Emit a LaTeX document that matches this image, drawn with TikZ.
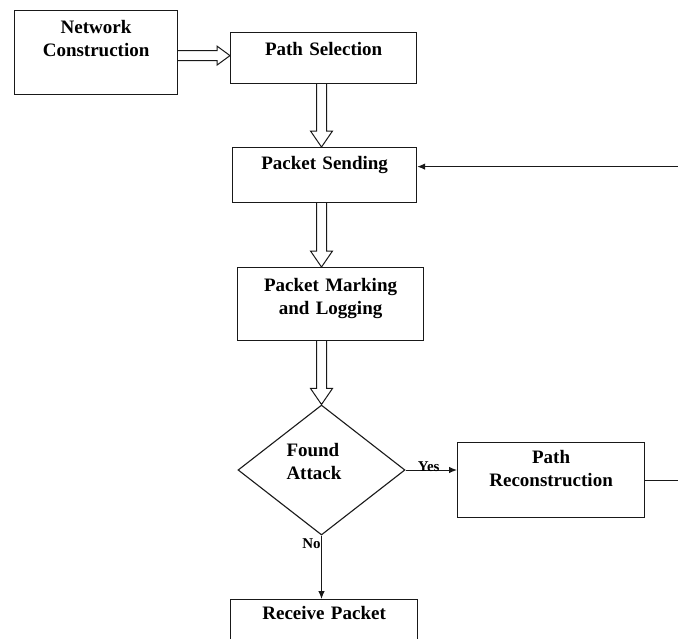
\documentclass[tikz,border=0pt]{standalone}
\usepackage{fontspec}
\setmainfont{Liberation Serif}
\usetikzlibrary{shapes.geometric,arrows.meta,calc}
\tikzset{
  stage/.style={draw=black!90, line width=1.2pt, inner sep=0pt, anchor=north west, align=center, font=\bfseries\fontsize{19}{23}\selectfont},
  choice/.style={draw=black!90, diamond, line width=1.1pt, inner sep=0pt, align=left, font=\bfseries\fontsize{19}{23}\selectfont},
  flow/.style={draw=black!90, line width=1pt, -{Latex[length=8pt,width=6.5pt]}},
  tag/.style={font=\bfseries\fontsize{15}{17}\selectfont, inner sep=0pt},
  hollow/.style={draw=black!90, line width=1pt, line join=miter}
}
% open block arrow, going down / going right
\newcommand{\hollowdown}[2]{%
  \draw[hollow] (#1)++(-5,0) -- ($(#2)+(-5,-16)$) -- ++(-6,0) -- (#2) -- ++(11,-16) -- ++(-6,0) -- ($(#1)+(5,0)$);}
\newcommand{\hollowright}[2]{%
  \draw[hollow] (#1)++(0,-5) -- ($(#2)+(-13,-5)$) -- ++(0,-4.5) -- (#2) -- ++(-13,9.5) -- ++(0,-4.5) -- ($(#1)+(0,5)$);}
\begin{document}
\begin{tikzpicture}[x=1pt,y=-1pt]
\path[use as bounding box, fill=white] (0,0) rectangle (678,638);
\clip (0,0) rectangle (678,638);
% boxes
\node[stage, text width=163pt, text height=23pt, text depth=61pt] (net) at (14,10) {Network\\Construction};
\node[stage, text width=186pt, text height=23pt, text depth=28pt] (sel) at (230,32) {Path Selection};
\node[stage, text width=184pt, text height=22pt, text depth=33pt] (send) at (232,147) {Packet Sending};
\node[stage, text width=186pt, text height=24pt, text depth=49pt] (mark) at (237,267) {Packet Marking\\and Logging};
\node[choice, minimum width=167pt, minimum height=130pt, text width=70pt, text height=13pt, text depth=41pt] (dia) at (321.5,470) {Found\\Attack};
\node[stage, text width=187pt, text height=21pt, text depth=54pt] (rec) at (457,442) {Path\\Reconstruction};
\node[stage, text width=187pt, text height=20pt, text depth=45pt] (recv) at (230,599) {Receive Packet};
% block arrows
\coordinate (nc) at ($(net.east)+(0,3)$);
\hollowright{nc}{nc -| sel.west}
\hollowdown{sel.south -| dia.north}{send.north -| dia.north}
\hollowdown{send.south -| dia.north}{mark.north -| dia.north}
\hollowdown{mark.south -| dia.north}{dia.north}
% decision
\draw[flow] (dia.east) -- node[tag, pos=0.45, yshift=3pt] (yes) {Yes} (dia.east -| rec.west);
\draw[flow] (dia.south) -- node[tag, pos=0.13, xshift=-10pt] (no) {No} (dia.south |- recv.north);
\draw[flow] (rec.east) -- ++(36,0) |- ([yshift=8.5pt]send.east);
\end{tikzpicture}
\end{document}
